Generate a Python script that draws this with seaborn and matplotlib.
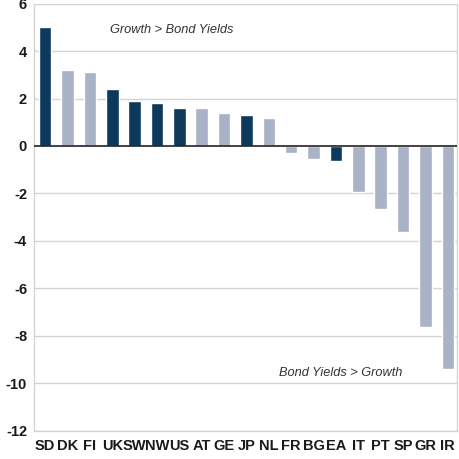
import matplotlib
matplotlib.use("Agg")
import matplotlib.pyplot as plt
import seaborn as sns
import pandas as pd

countries = ["SD", "DK", "FI", "UK", "SW", "NW", "US", "AT", "GE", "JP",
             "NL", "FR", "BG", "EA", "IT", "PT", "SP", "GR", "IR"]
gap = [5.0, 3.2, 3.1, 2.4, 1.9, 1.8, 1.6, 1.6, 1.4, 1.3,
       1.2, -0.3, -0.55, -0.63, -1.95, -2.66, -3.64, -7.65, -9.42]
highlight = ["SD", "UK", "SW", "NW", "US", "JP", "EA"]
tick_labels = ["SD", "DK", "FI", "UK", "SW", "NW", "US", "AT", "GE", "JP",
               "NL", "FR", "BG", "EA", "IT", "PT", "SP", "GR", "IR"]
y_ticks = [-12, -10, -8, -6, -4, -2, 0, 2, 4, 6]

dark = "#0d3a5c"
light = "#a9b2c7"

df = pd.DataFrame({"country": countries, "gap": gap})
df["group"] = ["dark" if c in highlight else "light" for c in countries]

sns.set_style("white")
plt.rcParams["font.family"] = ["Liberation Sans", "DejaVu Sans"]

fig = plt.figure(figsize=(4.59, 4.59), dpi=100)
ax = fig.add_axes([0.074, 0.062, 0.922, 0.930])

sns.barplot(data=df, x="country", y="gap", hue="group",
            palette={"dark": dark, "light": light}, dodge=False,
            width=0.56, legend=False, ax=ax, saturation=1)

ax.set_ylim(-12, 6)
ax.set_xlim(-0.5, 18.42)
ax.set_yticks(y_ticks)
ax.set_yticklabels([str(v) for v in y_ticks], fontsize=10.5, fontweight="bold",
                   color="#1a1a1a")
ax.set_xticks(range(len(tick_labels)))
ax.set_xticklabels(tick_labels, fontsize=10.5, fontweight="bold", color="#1a1a1a")
ax.set_xlabel("")
ax.set_ylabel("")
ax.tick_params(axis="x", length=0, pad=6)
ax.tick_params(axis="y", length=0, pad=5)

for v in y_ticks:
    if v != 0:
        ax.axhline(v, color="#d4d4d4", lw=1.0, zorder=0)
ax.axhline(0, color="#222222", lw=1.2, zorder=3)

for side in ["left", "bottom", "right"]:
    ax.spines[side].set_color("#d4d4d4")
    ax.spines[side].set_linewidth(1.0)
ax.spines["top"].set_visible(False)

ax.text(5.67, 4.9, "Growth > Bond Yields", style="italic", fontsize=9.2,
        color="#333333", ha="center", va="center")
ax.text(13.2, -9.58, "Bond Yields > Growth", style="italic", fontsize=9.2,
        color="#333333", ha="center", va="center")

fig.savefig("out.png", dpi=100)
